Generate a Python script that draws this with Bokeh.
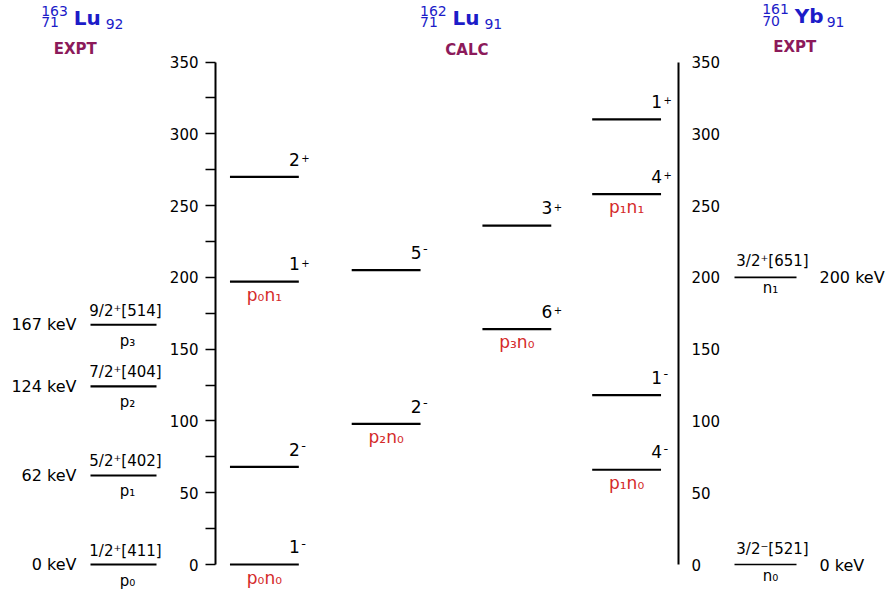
from bokeh.plotting import figure
from bokeh.layouts import row
from bokeh.models import Range1d, LinearAxis, FixedTicker, ColumnDataSource
from bokeh.core.properties import value
from bokeh.embed import file_html
from bokeh.resources import INLINE

# ---------------- data ----------------
# calculated two-quasiparticle levels of 162Lu (spin, parity, energy in keV)
calc_spin = ["1", "2", "1", "2", "2", "5", "6", "3", "4", "1", "4", "1"]
calc_parity = ["-", "-", "+", "+", "-", "-", "+", "+", "-", "-", "+", "+"]
calc_energy = [0, 68, 197, 270, 98, 205, 164, 236, 66, 118, 258, 310]
calc_column = [0, 0, 0, 0, 1, 1, 2, 2, 3, 3, 3, 3]
calc_config = ["p₀n₀", "", "p₀n₁", "", "p₂n₀", "", "p₃n₀", "", "p₁n₀", "", "p₁n₁", ""]

# experimental proton levels of 163Lu
left_energy = [0, 62, 124, 167]
left_nilsson = ["1/2⁺[411]", "5/2⁺[402]", "7/2⁺[404]", "9/2⁺[514]"]
left_orbital = ["p₀", "p₁", "p₂", "p₃"]
left_kev = ["0 keV", "62 keV", "124 keV", "167 keV"]

# experimental neutron levels of 161Yb
right_energy = [0, 200]
right_nilsson = ["3/2⁻[521]", "3/2⁺[651]"]
right_orbital = ["n₀", "n₁"]
right_kev = ["0 keV", "200 keV"]

# panel titles
nuclide_mass = ["163", "162", "161"]
nuclide_z = ["71", "71", "70"]
nuclide_symbol = ["Lu", "Lu", "Yb"]
nuclide_n = ["92", "91", "91"]
panel_tag = ["EXPT", "CALC", "EXPT"]

axis_ticks = [0, 50, 100, 150, 200, 250, 300, 350]
axis_minor_ticks = [25, 75, 125, 175, 225, 275, 325]

# ---------------- layout ----------------
FONT_NAME = "DejaVu Sans"
FONT = value(FONT_NAME)
BLUE = "#1c1cc8"
TAG = "#8c1a5a"
RED = "#d42a2a"
H = 592
PX0 = 564.0      # page y of 0 keV
K = 1.4357       # px per keV
BASE_FIX = 0.4   # baseline correction, in em


def Y(page_y):
    return (PX0 - page_y) / K


def D(px):
    return px / K


yr = Range1d(Y(H), Y(0))


def make_fig(width, x0, x1, **kw):
    p = figure(width=width, height=H, x_range=Range1d(x0, x1), y_range=yr,
               x_axis_type=None, y_axis_type=None, toolbar_location=None,
               output_backend="svg", min_border_top=0, min_border_bottom=0,
               **kw)
    p.outline_line_color = None
    p.background_fill_color = "white"
    p.border_fill_color = "white"
    return p


def txt(p, xs, ys, texts, size, color="black", align="left", style="normal"):
    fix = D(BASE_FIX * size)
    src = ColumnDataSource(dict(x=list(xs), y=[y + fix for y in ys], t=list(texts)))
    p.text(x="x", y="y", text="t", source=src, text_font=FONT, text_font_size=f"{size}px",
           text_color=color, text_align=align, text_baseline="alphabetic",
           text_font_style=style)


left = make_fig(166, 0, 166, min_border_left=0, min_border_right=0)
mid = make_fig(558, 214, 678, min_border_left=48, min_border_right=46)
right = make_fig(170, 724, 894, min_border_left=0, min_border_right=0)

# ---- titles ----
title_x = [40.7, 419, 761.7]
title_dy = [0, 0, -1.5]
tag_x = [74.7, 466, 794.3]
tag_base = [54, 55, 52.7]
for i, p in enumerate([left, mid, right]):
    bx, dy = title_x[i], title_dy[i]
    txt(p, [bx], [Y(16 + dy)], [nuclide_mass[i]], 14, BLUE)
    txt(p, [bx], [Y(27.5 + dy)], [nuclide_z[i]], 14, BLUE)
    txt(p, [bx + 32.5], [Y(25 + dy)], [nuclide_symbol[i]], 20, BLUE, style="bold")
    txt(p, [bx + 64.5], [Y(29 + dy)], [nuclide_n[i]], 14, BLUE)
    txt(p, [tag_x[i]], [Y(tag_base[i])], [panel_tag[i]], 15, TAG, align="center", style="bold")

# ---- calculated levels ----
col_center = [263, 385, 516, 626]
half = 34.5
cx0 = [col_center[c] - half for c in calc_column]
cx1 = [col_center[c] + half for c in calc_column]
mid.segment(x0=cx0, y0=calc_energy, x1=cx1, y1=calc_energy, line_color="black", line_width=2.2)
spin_base = [e + D(11) for e in calc_energy]
txt(mid, [x + 1 for x in cx1], spin_base, calc_spin, 17, align="right")
plus_i = [i for i, s in enumerate(calc_parity) if s == "+"]
minus_i = [i for i, s in enumerate(calc_parity) if s == "-"]
txt(mid, [cx1[i] + 2.5 for i in plus_i], [spin_base[i] + D(4) for i in plus_i],
    [calc_parity[i] for i in plus_i], 10)
txt(mid, [cx1[i] + 2.5 for i in minus_i], [spin_base[i] + D(5) for i in minus_i],
    [calc_parity[i] for i in minus_i], 13)
txt(mid, [col_center[c] for c in calc_column], [e - D(20) for e in calc_energy], calc_config,
    17, RED, align="center")

# ---- axes ----
lax = LinearAxis(ticker=FixedTicker(ticks=axis_ticks, minor_ticks=axis_minor_ticks),
                 bounds=(0, 350), axis_line_width=2, axis_line_color="black",
                 major_tick_out=10, major_tick_in=0, minor_tick_out=10, minor_tick_in=0,
                 major_tick_line_width=1.5, minor_tick_line_width=1.5,
                 major_label_standoff=7, major_label_text_font=FONT_NAME,
                 major_label_text_font_size="15px", major_label_text_color="black")
mid.add_layout(lax, "left")
rax = LinearAxis(ticker=FixedTicker(ticks=axis_ticks), bounds=(0, 350),
                 axis_line_width=2, axis_line_color="black",
                 major_tick_out=0, major_tick_in=0, minor_tick_out=0, minor_tick_in=0,
                 major_label_standoff=13, major_label_text_font=FONT_NAME,
                 major_label_text_font_size="15px", major_label_text_color="black")
mid.add_layout(rax, "right")

# ---- left experimental levels ----
n_left = len(left_energy)
lc, lh = 123, 33
left.segment(x0=[lc - lh] * n_left, y0=left_energy, x1=[lc + lh] * n_left,
             y1=left_energy, line_color="black", line_width=2.2)
txt(left, [lc + 2] * n_left, [e + D(8) for e in left_energy], left_nilsson, 15, align="center")
txt(left, [lc + 4] * n_left, [e - D(22) for e in left_energy], left_orbital, 15, align="center")
txt(left, [76] * n_left, [e - D(6) for e in left_energy], left_kev, 16, align="right")

# ---- right experimental levels ----
n_right = len(right_energy)
rc, rh = 765, 31
right.segment(x0=[rc - rh] * n_right, y0=right_energy, x1=[rc + rh] * n_right,
              y1=right_energy, line_color="black", line_width=1.6)
txt(right, [rc + 7] * n_right, [e + D(10) for e in right_energy], right_nilsson, 15, align="center")
txt(right, [rc + 5] * n_right, [e - D(17) for e in right_energy], right_orbital, 15, align="center")
txt(right, [819] * n_right, [e - D(7) for e in right_energy], right_kev, 16, align="left")

layout = row(left, mid, right)
open("out.html", "w").write(file_html(layout, INLINE))
